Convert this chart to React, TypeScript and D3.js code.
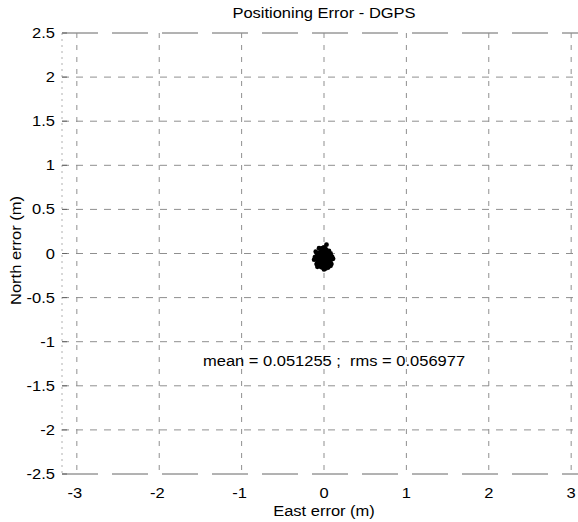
import * as d3 from "d3";
import React from "react";

// east / north error samples (m)
const eastErr = [
  0.0, -0.03, 0.03, -0.05, 0.05, -0.07, 0.07, -0.01, 0.01, -0.04,
  0.04, -0.06, 0.06, -0.09, 0.09, 0.0, -0.03, 0.03, -0.05, 0.05,
  -0.08, 0.08, -0.1, 0.1, -0.02, 0.02, -0.04, 0.04, -0.07, 0.07,
  0.0, -0.03, 0.03, -0.05, 0.05, -0.08, 0.08, -0.02, 0.02, -0.04,
  0.04, -0.07, 0.07, 0.0, -0.03, 0.03, -0.05, 0.05, -0.02, 0.02,
  -0.04, 0.04, 0.0, -0.02, 0.02, -0.11, 0.11, -0.09, 0.09, 0.05,
  -0.12, 0.1, 0.03, -0.1, 0.06, 0.0, 0.02, -0.06, 0.08, -0.08,
];
const northErr = [
  -0.05, -0.05, -0.05, -0.05, -0.05, -0.05, -0.05, -0.02, -0.02, -0.02,
  -0.02, -0.02, -0.02, -0.03, -0.03, 0.01, 0.01, 0.01, 0.01, 0.01,
  0.0, 0.0, -0.05, -0.06, -0.08, -0.08, -0.08, -0.08, -0.08, -0.08,
  -0.11, -0.11, -0.11, -0.11, -0.11, -0.1, -0.1, 0.04, 0.04, 0.03,
  0.03, 0.0, -0.01, -0.14, -0.14, -0.14, -0.12, -0.13, 0.06, 0.05,
  -0.15, -0.15, 0.07, -0.16, -0.17, -0.04, -0.06, -0.12, -0.12, -0.16,
  -0.07, -0.04, 0.1, 0.02, 0.03, -0.18, -0.16, 0.06, -0.14, -0.15,
];

const xTicks = [-3, -2, -1, 0, 1, 2, 3];
const yTicks = [2.5, 2, 1.5, 1, 0.5, 0, -0.5, -1, -1.5, -2, -2.5];

const title = "Positioning Error - DGPS";
const xLabel = "East error (m)";
const yLabel = "North error (m)";
const statsText = "mean = 0.051255 ;  rms = 0.056977";

// scanned text is a little wider than Liberation Sans
const Txt = ({ x, y, anchor = "start", rot = 0, children }: any) => (
  <text
    transform={`translate(${x},${y}) rotate(${rot}) scale(1.1,1)`}
    textAnchor={anchor}
    fontSize={15}
    style={{ whiteSpace: "pre" }}
  >
    {children}
  </text>
);

export default function App() {
  const width = 578;
  const height = 522;
  const left = 62;
  const right = 586;
  const top = 33;
  const bottom = 474;

  const x = d3.scaleLinear().domain([-3.18, 3.18]).range([left, right]);
  const y = d3.scaleLinear().domain([-2.5, 2.5]).range([bottom, top]);

  const grid = "#8f8f8f";

  return (
    <svg
      width={width}
      height={height}
      style={{ position: "absolute", left: 0, top: 0, background: "#fff" }}
      fontFamily="Liberation Sans, Arial, sans-serif"
    >
      {/* grid */}
      {yTicks.map((t) => (
        <line
          key={"gy" + t}
          x1={left}
          x2={right}
          y1={y(t)}
          y2={y(t)}
          stroke={Math.abs(t) === 2.5 ? "#666" : grid}
          strokeWidth={1}
          strokeDasharray={Math.abs(t) === 2.5 ? "36,14" : "7,7"}
        />
      ))}
      {xTicks.map((t) => (
        <line
          key={"gx" + t}
          x1={x(t)}
          x2={x(t)}
          y1={top}
          y2={bottom}
          stroke={grid}
          strokeWidth={1}
          strokeDasharray="5,7"
        />
      ))}
      <line x1={left} x2={left} y1={top} y2={bottom} stroke="#b0b0b0" strokeDasharray="2,4" />

      {/* ticks */}
      {yTicks.map((t) => (
        <g key={"ty" + t}>
          <line x1={left} x2={left + 5} y1={y(t)} y2={y(t)} stroke="#666" />
          <Txt x={left - 7} y={y(t) + 5} anchor="end">
            {t}
          </Txt>
        </g>
      ))}
      {xTicks.map((t) => (
        <Txt key={"tx" + t} x={x(t) + (t < 0 ? -2 : 0)} y={bottom + 24} anchor="middle">
          {t}
        </Txt>
      ))}

      {/* points */}
      {eastErr.map((e, i) => (
        <circle key={i} cx={x(e)} cy={y(northErr[i])} r={2.4} fill="#000" />
      ))}

      <Txt x={203} y={366}>
        {statsText}
      </Txt>

      <Txt x={x(0)} y={18} anchor="middle">
        {title}
      </Txt>
      <Txt x={x(0)} y={516} anchor="middle">
        {xLabel}
      </Txt>
      <Txt x={21} y={y(0) - 3} anchor="middle" rot={-90}>
        {yLabel}
      </Txt>
    </svg>
  );
}
